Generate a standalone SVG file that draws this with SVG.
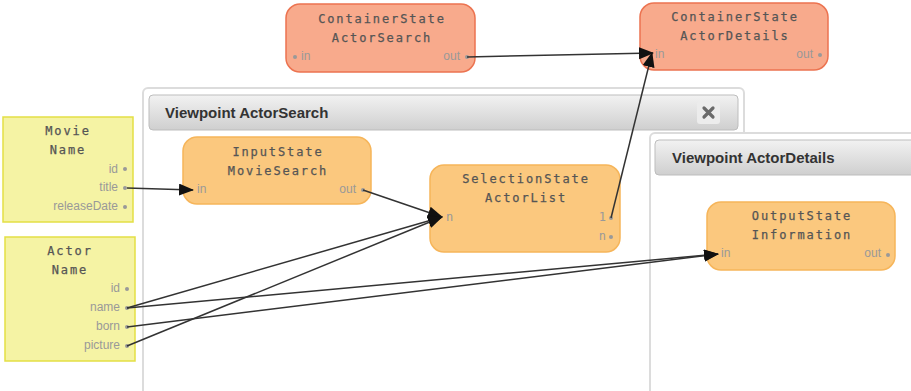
<svg xmlns="http://www.w3.org/2000/svg" width="911" height="391" viewBox="0 0 911 391">
<defs>
<linearGradient id="hdr" x1="0" y1="0" x2="0" y2="1">
<stop offset="0" stop-color="#f2f2f2"/>
<stop offset="1" stop-color="#cfcfcf"/>
</linearGradient>
<marker id="arr" markerUnits="userSpaceOnUse" markerWidth="15" markerHeight="12" refX="14" refY="6" orient="auto">
<path d="M0,0 L15,6 L0,12 z" fill="#111"/>
</marker>
</defs>
<style>
.panel{fill:#fff;stroke:#dcdcdc;stroke-width:2}
.hdr{fill:url(#hdr);stroke:#bdbdbd;stroke-width:1}
.htxt{font-family:"Liberation Sans",Arial,sans-serif;font-weight:bold;font-size:15px;fill:#333}
.ent{fill:#f5f3a4;stroke:#e3df45;stroke-width:1.5}
.cont{fill:#f8aa8c;stroke:#ec7350;stroke-width:1.5}
.st{fill:#fbc87e;stroke:#f6b55a;stroke-width:1.5}
.title{font-family:"DejaVu Sans Mono","Liberation Mono",monospace;font-size:12px;letter-spacing:1.9px;fill:#555;text-anchor:middle;stroke:#555;stroke-width:0.25}
.port{font-family:"Liberation Sans",Arial,sans-serif;font-size:12px;fill:#999}
.mport{font-family:"DejaVu Sans Mono","Liberation Mono",monospace;font-size:12px;fill:#999}
.r{text-anchor:end}
.dot{fill:#999}
.conn line{stroke:#333;stroke-width:1.5}
</style>
<rect width="911" height="391" fill="#fff"/>
<g id="viewpoint-actorsearch">
<rect class="panel" x="143" y="88" width="601" height="330" rx="5"/>
<rect class="hdr" x="149" y="95" width="589" height="35" rx="4"/>
<text class="htxt" x="165" y="118">Viewpoint ActorSearch</text>
<rect x="697" y="101" width="23" height="23" rx="3" fill="#ececec"/>
<path d="M704,108 L713,117 M713,108 L704,117" stroke="#6a6a6a" stroke-width="3.2" stroke-linecap="round"/>
</g>
<g id="viewpoint-actordetails">
<rect class="panel" x="650" y="133" width="290" height="300" rx="5"/>
<rect class="hdr" x="655" y="140" width="280" height="35" rx="4"/>
<text class="htxt" x="672" y="163">Viewpoint ActorDetails</text>
</g>
<g id="movie">
<rect class="ent" x="3" y="117" width="130" height="105"/>
<text class="title" x="68" y="135">Movie</text>
<text class="title" x="68" y="154">Name</text>
<text class="port r" x="118" y="173">id</text>
<text class="port r" x="118" y="191">title</text>
<text class="port r" x="118" y="210">releaseDate</text>
<circle class="dot" cx="125" cy="169" r="2"/>
<circle class="dot" cx="125" cy="188" r="2"/>
<circle class="dot" cx="125" cy="207" r="2"/>
</g>
<g id="actor">
<rect class="ent" x="5" y="237" width="130" height="124"/>
<text class="title" x="70" y="255">Actor</text>
<text class="title" x="70" y="274">Name</text>
<text class="port r" x="120" y="292">id</text>
<text class="port r" x="120" y="311">name</text>
<text class="port r" x="120" y="330">born</text>
<text class="port r" x="120" y="349">picture</text>
<circle class="dot" cx="127" cy="289" r="2"/>
<circle class="dot" cx="127" cy="308" r="2"/>
<circle class="dot" cx="127" cy="327" r="2"/>
<circle class="dot" cx="127" cy="346" r="2"/>
</g>
<g id="containerstate-actorsearch">
<rect class="cont" x="286" y="4" width="189" height="68" rx="14"/>
<text class="title" x="382" y="23">ContainerState</text>
<text class="title" x="382" y="42">ActorSearch</text>
<text class="port" x="301" y="60">in</text>
<text class="port r" x="460" y="60">out</text>
<circle class="dot" cx="295" cy="57" r="2"/>
<circle class="dot" cx="467" cy="57" r="2"/>
</g>
<g id="containerstate-actordetails">
<rect class="cont" x="640" y="3" width="188" height="67" rx="14"/>
<text class="title" x="735" y="21">ContainerState</text>
<text class="title" x="735" y="40">ActorDetails</text>
<text class="port" x="655" y="58">in</text>
<text class="port r" x="813" y="58">out</text>
<circle class="dot" cx="820" cy="55" r="2"/>
</g>
<g id="inputstate-moviesearch">
<rect class="st" x="183" y="137" width="188" height="67" rx="14"/>
<text class="title" x="278" y="156">InputState</text>
<text class="title" x="278" y="175">MovieSearch</text>
<text class="port" x="197" y="193">in</text>
<text class="port r" x="356" y="193">out</text>
<circle class="dot" cx="363" cy="190" r="2"/>
</g>
<g id="selectionstate-actorlist">
<rect class="st" x="430" y="165" width="190" height="87" rx="14"/>
<text class="title" x="526" y="183">SelectionState</text>
<text class="title" x="526" y="202">ActorList</text>
<text class="mport" x="446" y="221">n</text>
<text class="mport r" x="606" y="221">1</text>
<text class="mport r" x="606" y="240">n</text>
<circle class="dot" cx="611" cy="218" r="2"/>
<circle class="dot" cx="611" cy="237" r="2"/>
</g>
<g id="outputstate-information">
<rect class="st" x="707" y="202" width="188" height="68" rx="14"/>
<text class="title" x="802" y="220">OutputState</text>
<text class="title" x="802" y="239">Information</text>
<text class="port" x="721" y="257">in</text>
<text class="port r" x="881" y="257">out</text>
<circle class="dot" cx="888" cy="255" r="2"/>
</g>
<g class="conn" id="connectors">
<line x1="127" y1="188" x2="193" y2="190" marker-end="url(#arr)"/>
<line x1="363" y1="190" x2="442" y2="217" marker-end="url(#arr)"/>
<line x1="127" y1="308" x2="442" y2="217" marker-end="url(#arr)"/>
<line x1="127" y1="346" x2="442" y2="217" marker-end="url(#arr)"/>
<line x1="127" y1="308" x2="718" y2="254" marker-end="url(#arr)"/>
<line x1="127" y1="327" x2="718" y2="254" marker-end="url(#arr)"/>
<line x1="611" y1="218" x2="652" y2="53" marker-end="url(#arr)"/>
<line x1="467" y1="57" x2="653" y2="53" marker-end="url(#arr)"/>
</g>
</svg>
